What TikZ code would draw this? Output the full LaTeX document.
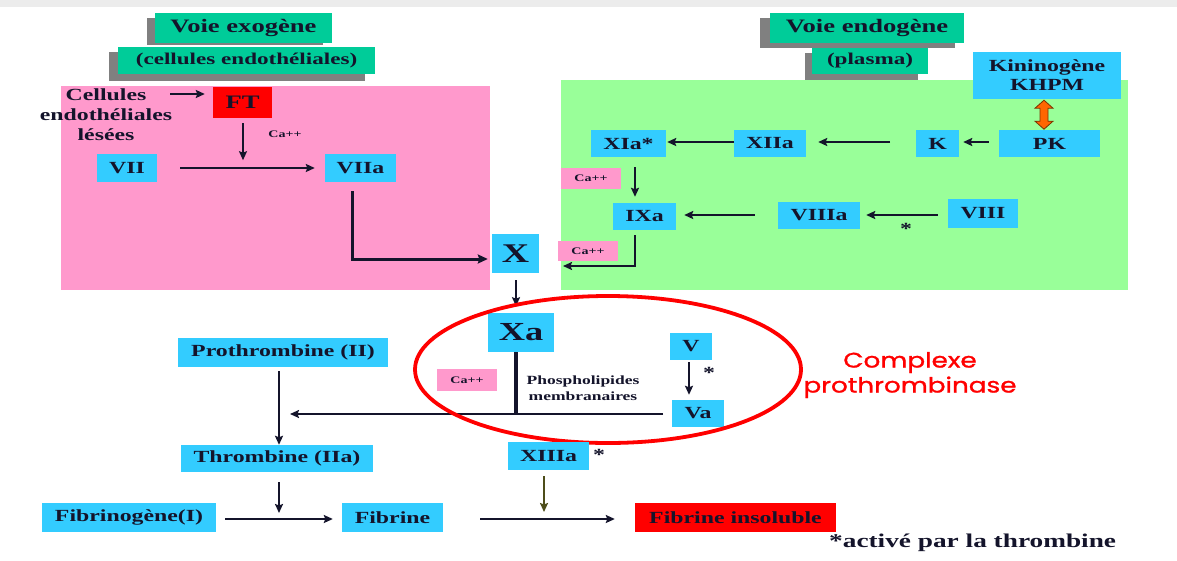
\documentclass[tikz,border=0pt]{standalone}
\usepackage{fontspec}
\setmainfont{Liberation Serif}[FakeStretch=1.4]
\newfontfamily\cfont{Poppins}[FakeStretch=1.25,FakeBold=1.2]
\usetikzlibrary{arrows.meta,calc}
\definecolor{txt}{HTML}{14142B}
\definecolor{tealc}{HTML}{00CC99}
\definecolor{shadowc}{HTML}{808080}
\definecolor{pinkc}{HTML}{FF99CC}
\definecolor{greenc}{HTML}{99FF99}
\definecolor{cyanc}{HTML}{33CCFF}
\definecolor{redc}{HTML}{FF0000}
\definecolor{topgray}{HTML}{ECECEC}
\definecolor{orangec}{HTML}{FF6600}
\definecolor{brownc}{HTML}{7A3300}
\definecolor{olivec}{HTML}{4D4D1A}
\begin{document}
\begin{tikzpicture}[x=1pt,y=-1pt,
  box/.style={fill=cyanc, inner sep=0pt, text=txt, font=\bfseries\fontsize{17}{19}\selectfont},
  redbox/.style={fill=redc, inner sep=0pt, text=txt, font=\bfseries\fontsize{17}{19}\selectfont},
  titleb/.style={fill=tealc, inner sep=0pt, text=txt, font=\bfseries\fontsize{19}{21}\selectfont},
  subb/.style={fill=tealc, inner sep=0pt, text=txt, font=\bfseries\fontsize{16.5}{19}\selectfont},
  cabox/.style={fill=pinkc, inner sep=0pt, text=txt, font=\bfseries\fontsize{10}{11}\selectfont, minimum width=60pt, minimum height=21pt},
  catext/.style={inner sep=0pt, text=txt, font=\bfseries\fontsize{10}{11}\selectfont},
  arr/.style={draw=txt, line width=2.4pt, -{Stealth[length=9pt,width=8pt,inset=1.5pt]}},
  thickarr/.style={draw=txt, line width=3pt, -{Stealth[length=10pt,width=9pt,inset=1.5pt]}},
  ln/.style={draw=txt, line width=3.2pt},
  lbl/.style={text=txt, inner sep=0pt, font=\bfseries\fontsize{17}{19}\selectfont}]

\useasboundingbox (0,0) rectangle (1177,560);
\fill[white] (0,0) rectangle (1177,560);
\fill[topgray] (0,0) rectangle (1177,7);

% regions
\fill[pinkc] (61,86) rectangle (490,290);
\fill[greenc] (561,80) rectangle (1128,290);

% titles with shadows
\fill[shadowc] (147,18) rectangle (323,45);
\node[titleb, minimum width=177pt, minimum height=30pt] (t1) at (243.5,28) {Voie exogène};
\fill[shadowc] (109,52) rectangle (365,81);
\node[subb, minimum width=257pt, minimum height=27pt] (t2) at (246.5,60.5) {(cellules endothéliales)};
\fill[shadowc] (760,18) rectangle (955,48);
\node[titleb, minimum width=194pt, minimum height=30pt] (t3) at (867,28) {Voie endogène};
\fill[shadowc] (805,53) rectangle (918,80);
\node[subb, minimum width=116pt, minimum height=26pt] (t4) at (870,61) {(plasma)};

% exogenous pathway
\node[lbl, align=center, font=\bfseries\fontsize{17}{20}\selectfont] (cel) at (106,115) {Cellules\\endothéliales\\lésées};
\node[redbox, minimum width=59pt, minimum height=31pt, font=\bfseries\fontsize{19}{21}\selectfont] (ft) at (242.5,102.5) {FT};
\node[catext] (ca1) at (285,134) {Ca++};
\node[box, minimum width=60pt, minimum height=28pt] (vii) at (127,168) {VII};
\node[box, minimum width=71pt, minimum height=28pt] (viia) at (360.5,168) {VIIa};
\node[box, minimum width=47pt, minimum height=39pt, font=\bfseries\fontsize{27}{29}\selectfont] (x) at (515.5,253.5) {X};

\coordinate (c1) at (170,94);
\draw[arr] (c1) -- ($(ft.west)+(-8,-8.5)$);
\draw[arr] ($(ft.south)+(0.5,5)$) -- ($(ft.south)+(0.5,42)$);
\draw[arr, shorten <=23pt, shorten >=10pt] (vii) -- (viia);
\draw[thickarr] ($(viia.south)+(-8,9)$) |- ($(x.west)+(-4,5.5)$);

% endogenous pathway
\node[box, align=center, minimum width=148pt, minimum height=47pt, font=\bfseries\fontsize{17}{19}\selectfont] (kh) at (1047,75.5) {Kininogène\\KHPM};
\node[box, minimum width=75pt, minimum height=27pt] (xia) at (628.5,143.5) {XIa*};
\node[box, minimum width=72pt, minimum height=27pt] (xiia) at (770,143.5) {XIIa};
\node[box, minimum width=43pt, minimum height=27pt] (k) at (937.5,143.5) {K};
\node[box, minimum width=101pt, minimum height=27pt] (pk) at (1049.5,143.5) {PK};
\node[cabox] (ca2) at (591,178.5) {Ca++};
\node[box, minimum width=63pt, minimum height=27pt] (ixa) at (644.5,216.5) {IXa};
\node[box, minimum width=82pt, minimum height=27pt] (viiia) at (819,215.5) {VIIIa};
\node[box, minimum width=70pt, minimum height=29pt] (viii) at (983,213.5) {VIII};
\node[cabox, minimum height=20pt] (ca3) at (588,251) {Ca++};
\node[lbl] (st1) at (906,229) {*};

% orange double arrow
\begin{scope}[shift={($(kh.south)+(-3,1)$)}]
\filldraw[fill=orangec, draw=brownc, line width=0.8pt]
  (0,0) -- (9,8) -- (4,8) -- (4,21) -- (9,21) -- (0,29) -- (-9,21) -- (-4,21) -- (-4,8) -- (-9,8) -- cycle;
\end{scope}

\coordinate (c2) at (890,142);
\draw[arr] (c2) -- ($(xiia.east)+(12,-1.5)$);
\draw[arr] ($(xiia.west)+(0,-1.5)$) -- ($(xia.east)+(1,-1.5)$);
\draw[arr] ($(pk.west)+(-10,-1.5)$) -- ($(k.east)+(4,-1.5)$);
\draw[arr] ($(xia.south)+(6.5,10)$) -- ($(ixa.north)+(-9.5,-6)$);
\draw[arr] ($(viii.west)+(-10,1.5)$) -- ($(viiia.east)+(6,-0.5)$);
\draw[arr] ($(viiia.west)+(-23,-0.5)$) -- ($(ixa.east)+(8,-1.5)$);
\coordinate (c3) at (563,266);
\draw[arr] ($(ixa.south)+(-9.5,5)$) |- (c3);

% lower part
\draw[arr] ($(x.south)+(0.5,7)$) -- ($(x.south)+(0.5,33)$);
\node[box, minimum width=66pt, minimum height=39pt, font=\bfseries\fontsize{26}{28}\selectfont] (xa) at (521,332.5) {Xa};
\node[box, minimum width=42pt, minimum height=27pt] (v) at (691,346.5) {V};
\node[box, minimum width=52pt, minimum height=27pt] (va) at (698,413.5) {Va};
\node[cabox, minimum height=22pt] (ca4) at (467,380) {Ca++};
\node[text=txt, inner sep=0pt, align=center, font=\bfseries\fontsize{12.5}{16}\selectfont] (ph) at (583,388) {Phospholipides\\membranaires};
\node[lbl] (st2) at (709,373) {*};
\draw[arr] ($(v.south)+(-2,2)$) -- ($(va.north)+(-9,-5)$);

\coordinate (j) at (516,414);
\coordinate (hr) at (663,414);
\coordinate (hl) at (290,414);
\draw[ln, line width=3.4pt] (xa.south -| j) -- (j);
\draw[arr] (hr) -- (hl);

\draw[redc, line width=3.8pt] (608,369.5) ellipse [x radius=193, y radius=73.5];
\node[text=redc, inner sep=0pt, align=center, font=\cfont\fontsize{21}{25}\selectfont] (cp) at (910,375) {Complexe\\prothrombinase};

\node[box, minimum width=210pt, minimum height=29pt] (pro) at (283,352.5) {Prothrombine (II)};
\node[box, minimum width=192pt, minimum height=27pt] (thr) at (277,458.5) {Thrombine (IIa)};
\node[box, minimum width=174pt, minimum height=29pt] (fgn) at (129,517.5) {Fibrinogène(I)};
\node[box, minimum width=101pt, minimum height=29pt] (fib) at (392.5,517.5) {Fibrine};
\node[box, minimum width=81pt, minimum height=28pt] (xiiia) at (548.5,456) {XIIIa};
\node[lbl] (st3) at (599,455) {*};
\node[redbox, minimum width=201pt, minimum height=29pt] (fins) at (735.5,517.5) {Fibrine insoluble};
\node[text=txt, anchor=west, inner sep=0pt, font=\bfseries\fontsize{19.5}{21}\selectfont] (note) at (829,543) {*activé par la thrombine};

\draw[arr] ($(pro.south)+(-4,4)$) -- ($(thr.north)+(2,0)$);
\coordinate (c4) at (279,513);
\draw[arr] ($(thr.south)+(2,10)$) -- (c4);
\draw[arr, shorten <=9pt, shorten >=9pt] ($(fgn.east)+(0,1.5)$) -- ($(fib.west)+(0,1.5)$);
\draw[arr] ($(fib.east)+(37,1.5)$) -- ($(fins.west)+(-20,1.5)$);
\coordinate (c5) at (544,512);
\draw[arr, draw=olivec] ($(xiiia.south)+(-4.5,6)$) -- (c5);

\end{tikzpicture}
\end{document}
